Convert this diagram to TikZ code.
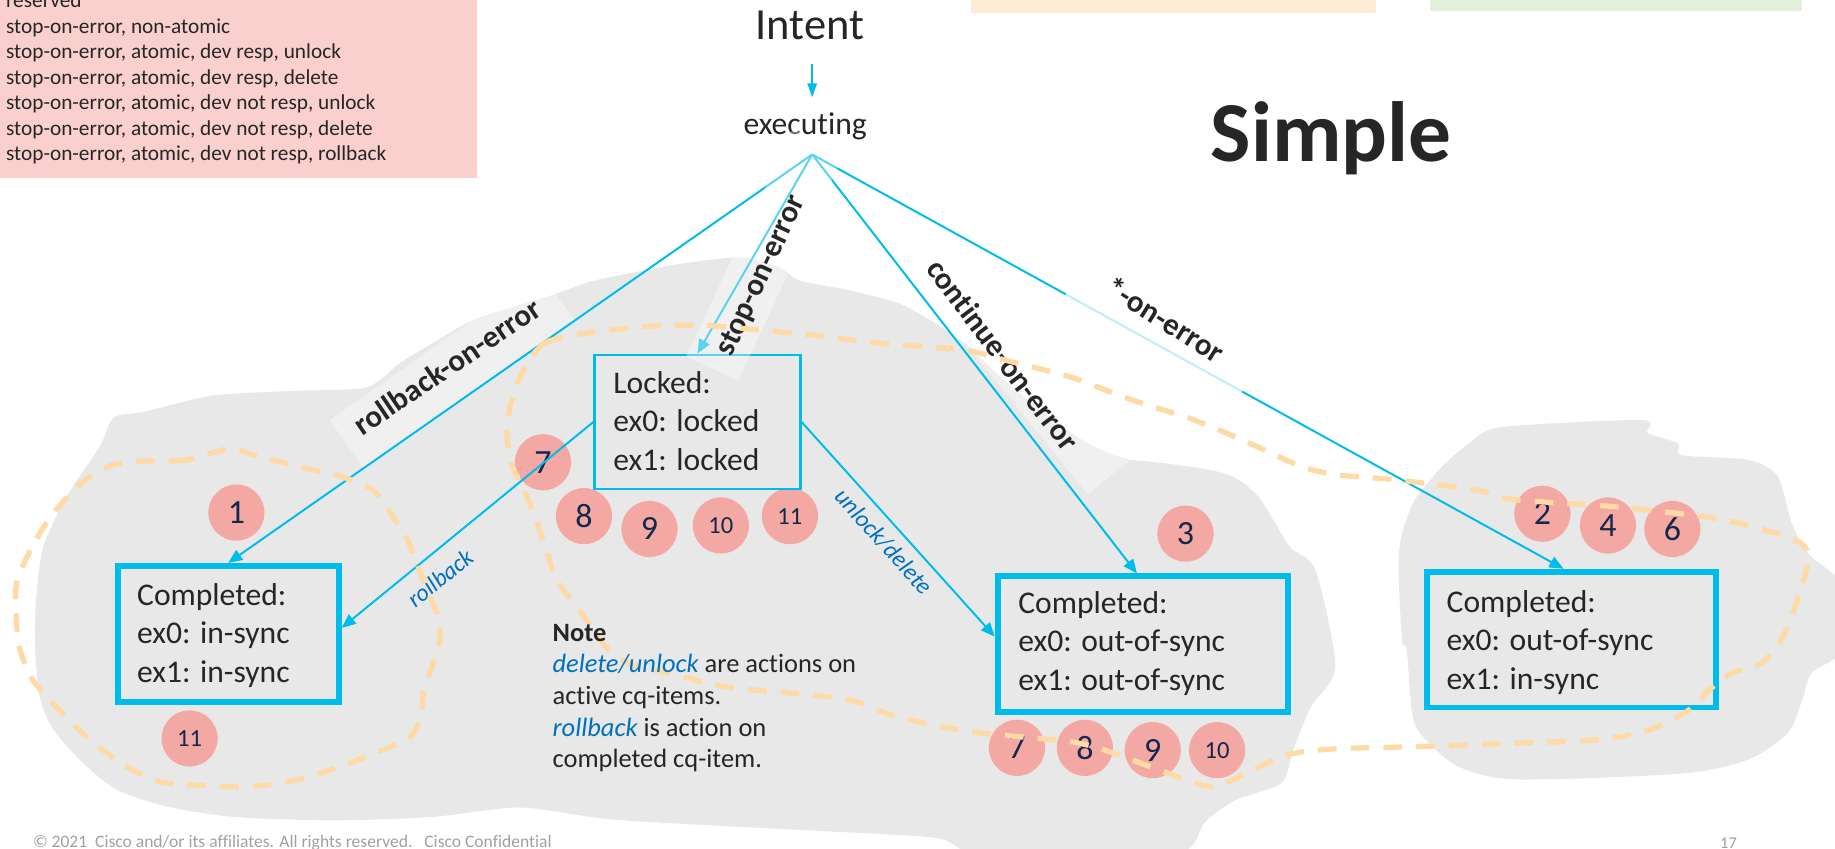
\documentclass[tikz,border=0pt]{standalone}
\usepackage{fontspec}
\setmainfont{Carlito}[Ligatures={NoCommon}]
\usetikzlibrary{arrows.meta,calc}
\pgfdeclarelayer{blobs}
\pgfdeclarelayer{circs}
\pgfdeclarelayer{lines}
\pgfsetlayers{blobs,circs,lines,main}
\definecolor{cyanline}{RGB}{0,188,235}
\definecolor{blobgray}{RGB}{232,232,232}
\definecolor{peach}{RGB}{253,218,166}
\definecolor{pinkbox}{RGB}{249,208,206}
\definecolor{orangebox}{RGB}{253,235,211}
\definecolor{greenbox}{RGB}{226,239,218}
\definecolor{circfill}{RGB}{244,168,164}
\definecolor{numnavy}{RGB}{20,40,75}
\definecolor{darktext}{RGB}{38,38,38}
\definecolor{noteblue}{RGB}{0,112,192}
\definecolor{footgray}{RGB}{160,160,160}
\begin{document}
\begin{tikzpicture}[x=1pt,y=-1pt,
  conn/.style={draw=cyanline,line width=1.7pt,-{Triangle[length=12pt,width=10pt]}},
  intro/.style={draw=cyanline,line width=1.5pt,-{Triangle[length=12pt,width=8pt]}},
  bigbox/.style={draw=cyanline,line width=5pt,inner sep=0pt,minimum width=#1,minimum height=116pt},
  lockbox/.style={draw=cyanline,line width=1.8pt,inner sep=0pt,minimum width=176pt,minimum height=115pt},
  boxtxt/.style={anchor=base west,inner sep=0pt,text=darktext,font=\fontsize{27}{33}\selectfont},
  num/.style={circle,fill=circfill,minimum size=48pt,inner sep=0pt,text=numnavy,font=\fontsize{29}{29}\selectfont},
  numtwo/.style={num,font=\fontsize{21}{21}\selectfont},
  lbl/.style={inner sep=0pt,text=darktext,font=\bfseries\fontsize{26.5}{26.5}\selectfont},
  ilbl/.style={inner sep=0pt,text=noteblue,font=\itshape\fontsize{20.5}{20.5}\selectfont},
  labelbg/.style={fill=white,fill opacity=0.35,inner sep=0pt,draw=none},
  dashloop/.style={draw=peach,line width=4.5pt,dash pattern=on 16pt off 12pt}
]
\useasboundingbox (0,0) rectangle (1568,725);

\begin{pgfonlayer}{blobs}
\fill[pinkbox] (-5,-5) rectangle (408,152);
\fill[orangebox] (830,-5) rectangle (1176,11);
\fill[greenbox] (1222,-5) rectangle (1540,9);
\fill[blobgray] plot[smooth cycle, tension=0.45] coordinates {(97,357) (122,352) (182,338) (250,334) (313,331) (342,310) (370,293) (403,274) (439,262) (469,253) (507,240) (551,231) (584,225) (632,220) (665,228) (684,240) (726,248) (770,260) (805,280) (830,298) (855,322) (895,355) (930,379) (962,392) (997,396) (1048,405) (1075,424) (1102,467) (1124,487) (1141,570) (1120,604) (1105,641) (1095,669) (1055,684) (1030,702) (1010,728) (920,730) (830,728) (800,716) (700,710) (621,706) (520,700) (444,690) (370,698) (285,701) (199,698) (142,689) (100,675) (71,652) (46,624) (34,596) (30,553) (31,510) (37,467) (57,424) (85,382)};
\fill[blobgray] plot[smooth cycle, tension=0.45] coordinates {(1283,365) (1403,359) (1408,370) (1434,379) (1437,389) (1494,393) (1519,407) (1531,447) (1545,473) (1575,501) (1575,555) (1548,575) (1540,598) (1528,626) (1494,649) (1437,661) (1295,666) (1246,655) (1218,632) (1207,612) (1202,555) (1198,547) (1195,484) (1198,456) (1209,427) (1232,399) (1255,379)};
\end{pgfonlayer}

\begin{pgfonlayer}{circs}
\node[num] (c1) at (202,438) {1};
\node[numtwo] (c11a) at (162,631) {11};
\node[num] (c7a) at (464,395) {7};
\node[num] (c8a) at (499,441) {8};
\node[num] (c9a) at (555,452) {9};
\node[numtwo] (c10a) at (616,449) {10};
\node[numtwo] (c11b) at (675,441) {11};
\node[num] (c3) at (1013,456) {3};
\node[num] (c2) at (1318,439) {2};
\node[num] (c4) at (1374,449) {4};
\node[num] (c6) at (1429,452) {6};
\node[num] (c7b) at (869,639) {7};
\node[num] (c8b) at (927,639) {8};
\node[num] (c9b) at (985,641) {9};
\node[numtwo] (c10b) at (1040,641) {10};
\end{pgfonlayer}

% top texts
\node[anchor=base west,inner sep=0pt,text=darktext,font=\fontsize{18.2}{21.8}\selectfont] (legend) at (5,6.5) {\begin{tabular}[t]{@{}l@{}}reserved\\stop-on-error, non-atomic\\stop-on-error, atomic, dev resp, unlock\\stop-on-error, atomic, dev resp, delete\\stop-on-error, atomic, dev not resp, unlock\\stop-on-error, atomic, dev not resp, delete\\stop-on-error, atomic, dev not resp, rollback\end{tabular}};
\node[anchor=base,inner sep=0pt,text=darktext,font=\fontsize{38}{38}\selectfont] (intent) at (692,34) {Intent};
\node[anchor=base,inner sep=0pt,text=darktext,font=\fontsize{27}{27}\selectfont] (executing) at (688,115) {executing};
\node[anchor=base,inner sep=0pt,text=darktext,font=\bfseries\fontsize{73}{73}\selectfont] (simple) at (1137.5,138) {Simple};
\coordinate (apex) at (694,132);

% boxes
\node[bigbox=189pt] (done1) at (195,541.5) {};
\node[bigbox=248pt] (done3) at (976.5,550.5) {};
\node[bigbox=247pt] (done4) at (1343,546.5) {};
\node[lockbox] (locked) at (596,360.5) {};

% connectors
\begin{pgfonlayer}{lines}
\draw[intro,shorten <=20pt,shorten >=13pt] (intent.south -| apex) -- (executing.north -| apex);
\draw[conn] (apex) -- (done1.north);
\draw[conn] (apex) -- (locked.north);
\draw[conn] (apex) -- ($(done3.north)+(-5,0)$);
\draw[conn] (apex) -- ($(done4.north)+(-7,0)$);
\draw[conn] (locked.west) -- ($(done1.east)+(0,-5)$);
\draw[conn] (locked.east) -- ($(done3.west)+(0,-6.5)$);
\end{pgfonlayer}

% label backgrounds
\node[labelbg,rotate=35,minimum width=220pt,minimum height=49pt] (bgroll) at (386,316) {};
\node[labelbg,rotate=65,minimum width=215pt,minimum height=49pt] (bgstop) at (654,217.6) {};
\node[labelbg,rotate=-51,minimum width=200pt,minimum height=50pt] (bgcont) at (886,329) {};
\node[labelbg,fill opacity=0.75,rotate=-30,minimum width=172pt,minimum height=56pt] (bgstar) at (993,281) {};

% labels
\node[lbl,rotate=34] (lroll) at (382,313) {rollback-on-error};
\node[lbl,rotate=65] (lstop) at (651,236) {stop-on-error};
\node[lbl,rotate=-53] (lcont) at (857,303) {continue-on-error};
\node[lbl,rotate=-32] (lstar) at (996,273) {*-on-error};
\node[ilbl,rotate=39] (lrb) at (376,494) {rollback};
\node[ilbl,rotate=-48] (lud) at (755,463) {unlock/delete};

% dashed loops
\draw[dashloop] plot[smooth cycle, tension=0.5] coordinates {(197,383) (160,393) (120,394) (91,399) (66,416) (43,442) (26,470) (14,499) (14,530) (17,555) (28,581) (51,607) (77,632) (108,655) (137,668) (171,671) (214,672) (251,667) (285,657) (319,644) (350,630) (360,610) (362,590) (370,567) (376,547) (373,524) (365,504) (356,481) (348,461) (336,442) (319,419) (291,407) (256,399) (217,389)};
\draw[dashloop] plot[smooth cycle, tension=0.5] coordinates {(449,313) (466,293) (498,285) (551,279) (600,278) (649,282) (700,287) (750,293) (800,297) (830,300) (860,308) (914,322) (968,342) (1021,359) (1075,382) (1113,399) (1145,406) (1193,410) (1263,419) (1295,427) (1380,433) (1466,443) (1522,457) (1542,467) (1544,484) (1534,518) (1522,547) (1505,567) (1480,575) (1460,590) (1440,609) (1408,624) (1366,632) (1295,635) (1209,638) (1138,640) (1100,645) (1070,658) (1034,672) (983,655) (922,635) (835,626) (769,613) (725,598) (673,592) (621,587) (570,575) (538,567) (518,553) (497,524) (476,496) (466,467) (456,439) (448,419) (437,396) (433,367) (438,340)};

% box texts
\node[boxtxt] (t1) at (117,517) {\begin{tabular}[t]{@{}l@{}}Completed:\\ex0: in-sync\\ex1: in-sync\end{tabular}};
\node[boxtxt] (t3) at (870,524) {\begin{tabular}[t]{@{}l@{}}Completed:\\ex0: out-of-sync\\ex1: out-of-sync\end{tabular}};
\node[boxtxt] (t4) at (1236,523) {\begin{tabular}[t]{@{}l@{}}Completed:\\ex0: out-of-sync\\ex1: in-sync\end{tabular}};
\node[boxtxt] (tl) at (524,336) {\begin{tabular}[t]{@{}l@{}}Locked:\\ex0: locked\\ex1: locked\end{tabular}};

% note
\node[anchor=base west,inner sep=0pt,text=darktext,font=\fontsize{22.6}{27}\selectfont] (note) at (472,548) {\begin{tabular}[t]{@{}l@{}}\textbf{Note}\\\textcolor{noteblue}{\itshape delete/unlock} are actions on\\active cq-items.\\\textcolor{noteblue}{\itshape rollback} is action on\\completed cq-item.\end{tabular}};

% footer
\node[anchor=base west,inner sep=0pt,text=footgray,font=\fontsize{15}{15}\selectfont] (foot) at (28,724) {© 2021\ \ Cisco and/or its affiliates. All rights reserved.\ \ \ Cisco Confidential};
\node[anchor=base,inner sep=0pt,text=footgray,font=\fontsize{14}{14}\selectfont] (pnum) at (1477,725) {17};
\end{tikzpicture}
\end{document}
